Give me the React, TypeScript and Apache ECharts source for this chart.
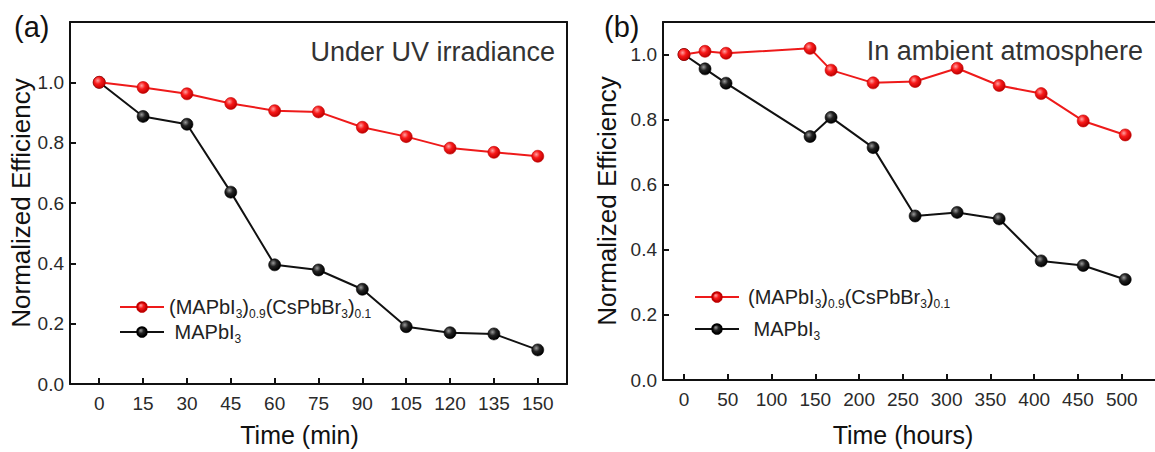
import React, { useEffect, useRef } from "react";
import * as echarts from "echarts";

// ---------- data ----------
const minTime = [0, 15, 30, 45, 60, 75, 90, 105, 120, 135, 150];
const uvMixed = [1.0, 0.983, 0.962, 0.93, 0.906, 0.902, 0.851, 0.82, 0.782, 0.768, 0.755];
const uvPure = [1.0, 0.887, 0.861, 0.636, 0.395, 0.378, 0.314, 0.19, 0.17, 0.166, 0.113];

const hours = [0, 24, 48, 144, 168, 216, 264, 312, 360, 408, 456, 504];
const ambMixed = [1.0, 1.01, 1.004, 1.019, 0.952, 0.913, 0.917, 0.958, 0.905, 0.88, 0.796, 0.753];
const ambPure = [1.0, 0.956, 0.912, 0.748, 0.807, 0.714, 0.504, 0.515, 0.495, 0.366, 0.352, 0.309];

const minTicks = [0, 15, 30, 45, 60, 75, 90, 105, 120, 135, 150];
const hourTicks = [0, 50, 100, 150, 200, 250, 300, 350, 400, 450, 500];
const effTicks = [0, 0.2, 0.4, 0.6, 0.8, 1.0];

const MIXED = "(MAPbI3)0.9(CsPbBr3)0.1";
const PURE = "MAPbI3";

const FONT = "'Liberation Sans', Arial, Helvetica, sans-serif";

const redBall = {
  type: "radial",
  x: 0.38,
  y: 0.35,
  r: 0.65,
  colorStops: [
    { offset: 0, color: "#ffa0a0" },
    { offset: 0.45, color: "#f81a1a" },
    { offset: 1, color: "#c00000" },
  ],
};
const blackBall = {
  type: "radial",
  x: 0.38,
  y: 0.35,
  r: 0.65,
  colorStops: [
    { offset: 0, color: "#9a9a9a" },
    { offset: 0.45, color: "#222222" },
    { offset: 1, color: "#000000" },
  ],
};

const RED = "#ee1a1a";
const BLACK = "#111111";

function pairs(xs: number[], ys: number[]) {
  return xs.map((x, i) => [x, ys[i]]);
}

const rich = {
  n: { fontSize: 20, lineHeight: 26, fontFamily: FONT, color: "#222", verticalAlign: "middle" },
  s: { fontSize: 12, lineHeight: 12, fontFamily: FONT, color: "#222", verticalAlign: "bottom" },
};

const legendFormatter = (name: string) =>
  name === MIXED
    ? "{n|(MAPbI}{s|3}{n|)}{s|0.9}{n|(CsPbBr}{s|3}{n|)}{s|0.1}"
    : "{n| MAPbI}{s|3}";

function makeLegend(name: string, left: number, centerY: number, textPadLeft: number) {
  return {
    data: [name],
    left,
    top: centerY - 8,
    orient: "vertical",
    itemWidth: 44,
    itemHeight: 12,
    itemGap: 0,
    padding: 0,
    selectedMode: false,
    formatter: legendFormatter,
    textStyle: { rich, padding: [0, 0, 0, textPadLeft] },
  };
}

const axisLineStyle = { show: true, lineStyle: { color: BLACK, width: 2 } };

function bottomX(gridIndex: number, min: number, max: number, ticks: number[], name: string, nameGap: number, namePad: number[]) {
  return {
    type: "value",
    gridIndex,
    min,
    max,
    position: "bottom",
    axisLine: { ...axisLineStyle, onZero: false },
    axisTick: { show: true, inside: true, length: 6, lineStyle: { color: BLACK, width: 2 }, customValues: ticks },
    axisLabel: { show: true, customValues: ticks, fontSize: 19, fontFamily: FONT, color: "#2a2a2a", margin: 10 },
    splitLine: { show: false },
    name,
    nameLocation: "middle",
    nameGap,
    nameTextStyle: { fontSize: 25, fontFamily: FONT, color: "#111", padding: namePad },
  };
}

function topX(gridIndex: number, min: number, max: number) {
  return {
    type: "value",
    gridIndex,
    min,
    max,
    position: "top",
    axisLine: { ...axisLineStyle, onZero: false },
    axisTick: { show: false },
    axisLabel: { show: false },
    splitLine: { show: false },
  };
}

function leftY(gridIndex: number, max: number, nameGap: number) {
  return {
    type: "value",
    gridIndex,
    min: 0,
    max,
    position: "left",
    axisLine: { ...axisLineStyle, onZero: false },
    axisTick: { show: true, inside: true, length: 6, lineStyle: { color: BLACK, width: 2 }, customValues: effTicks },
    axisLabel: {
      show: true,
      customValues: effTicks,
      fontSize: 19,
      fontFamily: FONT,
      color: "#2a2a2a",
      margin: 6,
      formatter: (v: number) => v.toFixed(1),
    },
    splitLine: { show: false },
    name: "Normalized Efficiency",
    nameLocation: "middle",
    nameGap,
    nameTextStyle: { fontSize: 26, fontFamily: FONT, color: "#111" },
  };
}

function rightY(gridIndex: number, max: number) {
  return {
    type: "value",
    gridIndex,
    min: 0,
    max,
    position: "right",
    axisLine: { ...axisLineStyle, onZero: false },
    axisTick: { show: false },
    axisLabel: { show: false },
    splitLine: { show: false },
  };
}

function lineSeries(name: string, xIdx: number, yIdx: number, data: number[][], color: string, ball: any) {
  return {
    type: "line",
    name,
    xAxisIndex: xIdx,
    yAxisIndex: yIdx,
    data,
    symbol: "circle",
    symbolSize: 12,
    showSymbol: true,
    lineStyle: { color, width: 2 },
    itemStyle: { color: ball, borderColor: color === RED ? "#c00000" : "#000", borderWidth: 0.6 },
    emphasis: { disabled: true },
    z: color === RED ? 3 : 2,
  };
}

export default function App() {
  const ref = useRef<HTMLDivElement>(null);

  useEffect(() => {
    if (!ref.current) return;
    const chart = echarts.init(ref.current, undefined, { renderer: "svg" });
    const option: any = {
      animation: false,
      backgroundColor: "#ffffff",
      grid: [
        { left: 70, top: 22, width: 497, height: 366 },
        { left: 663, top: 22, right: 0, height: 362 },
      ],
      xAxis: [
        bottomX(0, -10, 160, minTicks, "Time (min)", 38, [0, 38, 0, 0]),
        bottomX(1, -24, 538, hourTicks, "Time (hours)", 42, [0, 12, 0, 0]),
        topX(0, -10, 160),
        topX(1, -24, 538),
      ],
      yAxis: [leftY(0, 1.2, 32), leftY(1, 1.1, 43), rightY(0, 1.2)],
      legend: [
        makeLegend(MIXED, 119, 305, 0),
        makeLegend(PURE, 119, 330, 0),
        makeLegend(MIXED, 694, 295, 4),
        makeLegend(PURE, 694, 327, 4),
      ],
      series: [
        lineSeries(PURE, 0, 0, pairs(minTime, uvPure), BLACK, blackBall),
        lineSeries(MIXED, 0, 0, pairs(minTime, uvMixed), RED, redBall),
        lineSeries(PURE, 1, 1, pairs(hours, ambPure), BLACK, blackBall),
        lineSeries(MIXED, 1, 1, pairs(hours, ambMixed), RED, redBall),
      ],
      graphic: [
        {
          type: "text",
          x: 14,
          y: 27,
          style: { text: "(a)", fontSize: 29, fontFamily: FONT, fill: "#111", align: "left", verticalAlign: "middle" },
        },
        {
          type: "text",
          x: 604,
          y: 27,
          style: { text: "(b)", fontSize: 29, fontFamily: FONT, fill: "#111", align: "left", verticalAlign: "middle" },
        },
        {
          type: "text",
          x: 555,
          y: 52,
          style: { text: "Under UV irradiance", fontSize: 27, fontFamily: FONT, fill: "#333", align: "right", verticalAlign: "middle" },
        },
        {
          type: "text",
          x: 1143,
          y: 51,
          style: { text: "In ambient atmosphere", fontSize: 27, fontFamily: FONT, fill: "#333", align: "right", verticalAlign: "middle" },
        },
      ],
    };
    chart.setOption(option);
    return () => chart.dispose();
  }, []);

  return (
    <div
      ref={ref}
      style={{ position: "fixed", left: 0, top: 0, width: 1155, height: 452, background: "#fff" }}
    />
  );
}
